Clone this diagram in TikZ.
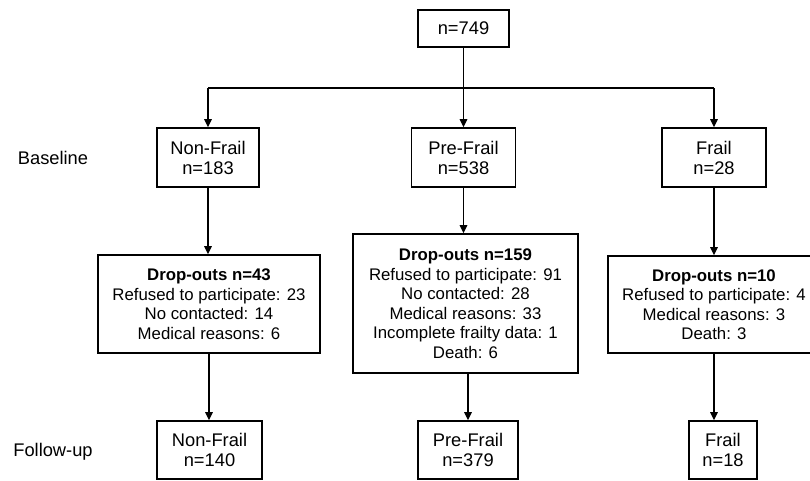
\documentclass[tikz,border=0pt]{standalone}
\usepackage{fontspec}
\setmainfont{Liberation Sans}
\usetikzlibrary{arrows.meta}
\begin{document}
\begin{tikzpicture}[x=1pt,y=-1pt,
  box/.style={draw=black,line width=1.6pt,align=center,inner sep=0pt,
    font=\fontsize{18.3}{20}\selectfont},
  dbox/.style={draw=black,line width=1.6pt,align=center,inner sep=0pt,
    font=\fontsize{16.8}{19.5}\selectfont},
  lab/.style={font=\fontsize{18.3}{20}\selectfont,inner sep=0pt},
  conn/.style={line width=1.4pt},
  arr/.style={line width=1.4pt,-{Triangle[length=8pt,width=7.5pt]}}]
\useasboundingbox (0,0) rectangle (810,480);
\fill[white] (0,0) rectangle (810,480);

\node[box,minimum width=91pt,minimum height=37pt] (top) at (463.5,28.5) {n=749};

\node[lab] (base) at (53,158) {Baseline};
\node[lab] (fu) at (53,452) {Follow-up};

\node[box,minimum width=102pt,minimum height=59pt] (nf1) at (208,157.5) {Non-Frail\\n=183};
\node[box,minimum width=104pt,minimum height=59pt] (pf1) at (463.5,157.5) {Pre-Frail\\n=538};
\node[box,minimum width=104pt,minimum height=59pt] (f1) at (714,157.5) {Frail\\n=28};

\node[dbox,minimum width=222pt,minimum height=98pt] (d1) at (209,304)
  {\textbf{Drop-outs n=43}\\Refused to participate: 23\\No contacted: 14\\Medical reasons: 6};
\node[dbox,minimum width=225pt,minimum height=139pt] (d2) at (465.5,303.5)
  {\textbf{Drop-outs n=159}\\Refused to participate: 91\\No contacted: 28\\Medical reasons: 33\\Incomplete frailty data: 1\\Death: 6};
\node[dbox,minimum width=212pt,minimum height=97pt] (d3) at (714,304.5)
  {\textbf{Drop-outs n=10}\\Refused to participate: 4\\Medical reasons: 3\\Death: 3};

\node[box,minimum width=105pt,minimum height=58pt] (nf3) at (209.5,450) {Non-Frail\\n=140};
\node[box,minimum width=100pt,minimum height=58pt] (pf3) at (468,450) {Pre-Frail\\n=379};
\node[box,minimum width=68pt,minimum height=58pt] (f3) at (723,450) {Frail\\n=18};

\coordinate (jL) at (208,88);
\coordinate (jR) at (714,88);

\draw[conn] (jL) -- (jR);
\draw[arr] (top.south) -- (pf1.north);
\draw[arr] (jL) -- (nf1.north);
\draw[arr] (jR) -- (f1.north);

\draw[arr] (nf1.south) -- (nf1.south |- d1.north);
\draw[arr] (pf1.south) -- (pf1.south |- d2.north);
\draw[arr] (f1.south) -- (f1.south |- d3.north);

\draw[arr] (d1.south) -- (d1.south |- nf3.north);
\draw[arr] (pf3.north |- d2.south) -- (pf3.north);
\draw[arr] (d3.south) -- (d3.south |- f3.north);
\end{tikzpicture}
\end{document}
